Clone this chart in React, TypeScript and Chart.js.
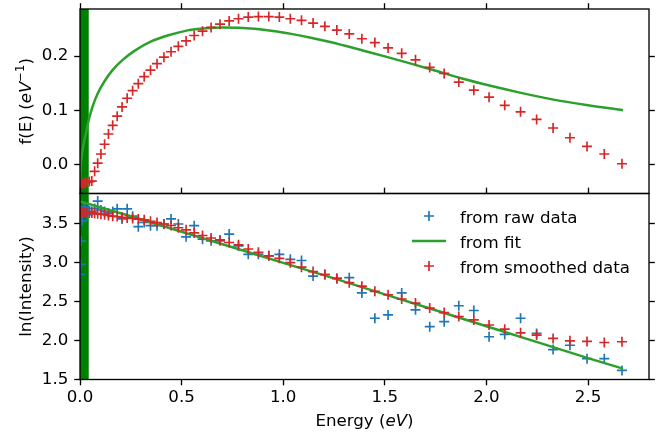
import React, { useEffect, useRef } from 'react';
import { Chart, registerables } from 'chart.js';

Chart.register(...registerables);

// ---------------- data ----------------
const energy = [
  0, 0.001, 0.003, 0.006, 0.011, 0.018, 0.026, 0.035, 0.046,
  0.058, 0.072, 0.087, 0.103, 0.121, 0.140, 0.161, 0.183, 0.207, 0.232,
  0.259, 0.287, 0.316, 0.347, 0.379, 0.413, 0.448, 0.484, 0.522, 0.562,
  0.603, 0.645, 0.689, 0.734, 0.780, 0.828, 0.878, 0.929, 0.981, 1.035,
  1.090, 1.147, 1.205, 1.264, 1.325, 1.387, 1.451, 1.516, 1.583, 1.651,
  1.721, 1.792, 1.864, 1.938, 2.013, 2.090, 2.168, 2.247, 2.328, 2.411,
  2.495, 2.580, 2.667,
];

const fSmoothed = [
  -0.038, -0.038, -0.038, -0.037, -0.036, -0.035, -0.034, -0.033, -0.032,
  -0.031, -0.013, 0.002, 0.019, 0.037, 0.056, 0.072, 0.089, 0.106, 0.122,
  0.136, 0.149, 0.162, 0.174, 0.186, 0.198, 0.208, 0.218, 0.228, 0.238,
  0.246, 0.253, 0.259, 0.265, 0.269, 0.272, 0.273, 0.273, 0.272, 0.269,
  0.266, 0.261, 0.255, 0.248, 0.241, 0.232, 0.225, 0.215, 0.205, 0.193,
  0.179, 0.168, 0.152, 0.137, 0.124, 0.109, 0.097, 0.083, 0.067, 0.049,
  0.033, 0.019, 0.001,
];

const fitEnergyTop = [
  0, 0.004, 0.010, 0.018, 0.029, 0.045, 0.065, 0.090, 0.120, 0.160, 0.210,
  0.270, 0.350, 0.440, 0.530, 0.620, 0.700, 0.780, 0.860, 0.950, 1.040,
  1.130, 1.220, 1.310, 1.400, 1.500, 1.620, 1.750, 1.880, 2.020, 2.170,
  2.330, 2.500, 2.672,
];
const fitTop = [
  -0.036, 0.000, 0.020, 0.038, 0.057, 0.085, 0.110, 0.133, 0.153, 0.174, 0.193,
  0.210, 0.227, 0.239, 0.2475, 0.2515, 0.253, 0.2525, 0.2505, 0.2465, 0.241,
  0.2345, 0.227, 0.2185, 0.2095, 0.1995, 0.187, 0.173, 0.1585, 0.145, 0.132,
  0.1195, 0.109, 0.100,
];

const lnRaw = [
  null, 2.85, 2.98, 3.28, 3.54, 3.70, 3.72, 3.62, 3.66,
  3.66, 3.70, 3.795, 3.68, 3.66, 3.64, 3.66, 3.695, 3.565, 3.695,
  3.60, 3.465, 3.52, 3.478, 3.478, 3.50, 3.565, 3.50, 3.335, 3.478,
  3.305, 3.283, 3.283, 3.37, 3.218, 3.11, 3.11, 3.09, 3.11, 3.045,
  3.03, 2.83, 2.85, 2.80, 2.81, 2.613, 2.288, 2.331, 2.613, 2.396,
  2.179, 2.244, 2.448, 2.387, 2.05, 2.08, 2.288, 2.093, 1.885, 1.94,
  1.768, 1.768, 1.617,
];

const lnSmoothed = [
  3.65, 3.65, 3.65, 3.65, 3.65, 3.645, 3.645, 3.64, 3.64,
  3.64, 3.635, 3.63, 3.625, 3.62, 3.61, 3.60, 3.595, 3.585, 3.578,
  3.57, 3.563, 3.553, 3.535, 3.518, 3.50, 3.48, 3.452, 3.425, 3.385,
  3.352, 3.32, 3.295, 3.262, 3.232, 3.178, 3.135, 3.09, 3.058, 3.002,
  2.945, 2.888, 2.85, 2.80, 2.745, 2.70, 2.634, 2.59, 2.535, 2.483,
  2.418, 2.361, 2.31, 2.266, 2.201, 2.147, 2.10, 2.071, 2.028, 1.997,
  1.99, 1.976, 1.985,
];

const fitEnergyBottom = [0, 0.25, 0.5, 0.75, 1.0, 1.25, 1.5, 1.75, 2.0, 2.25, 2.5, 2.672];
const fitBottom = [3.79, 3.60, 3.40, 3.20, 3.00, 2.80, 2.595, 2.39, 2.185, 1.98, 1.775, 1.64];

const bandRange = [0, 0.043];
const xRange = [0, 2.8];
const xStep = 0.5;
const topRange = [-0.054, 0.287];
const topStep = 0.1;
const bottomRange = [1.5, 3.892];
const bottomStep = 0.5;
const legendLabels = ['from raw data', 'from fit', 'from smoothed data'];

// ---------------- styles ----------------
const BLUE = '#1f77b4';
const GREEN = '#2ca02c';
const RED = '#d62728';
const BAND = '#008000';
const FAMILY = 'DejaVu Sans';
const FS = 16.67;
const TICK = 5.83;
const LW = 1.33;

const W = 659;
const H = 434;
const LEFT = 80;
const RIGHT = 10;
const TOP = 9;
const MID = 193.5;
const BOTTOM = 379.5;

function makeAxis(position: string, range: number[], step: number, showLabels: boolean, showTicks: boolean, size: number) {
  const horizontal = position === 'top' || position === 'bottom';
  return {
    type: 'linear',
    position,
    axis: horizontal ? 'x' : 'y',
    min: range[0],
    max: range[1],
    ticks: {
      display: showLabels,
      stepSize: step,
      includeBounds: false,
      autoSkip: false,
      maxRotation: 0,
      minRotation: 0,
      color: '#000',
      padding: horizontal ? 2.7 : 5.83,
      font: { family: FAMILY, size: FS },
      callback: (v: any) => Number(v).toFixed(1),
    },
    grid: {
      display: showTicks,
      drawOnChartArea: false,
      drawTicks: true,
      tickLength: TICK,
      tickWidth: LW,
      tickColor: '#000',
    },
    border: { display: false },
    afterFit: (s: any) => {
      if (horizontal) s.height = size;
      else s.width = size;
      s.paddingTop = 0;
      s.paddingBottom = 0;
      s.paddingLeft = 0;
      s.paddingRight = 0;
    },
  };
}

function drawRich(ctx: CanvasRenderingContext2D, segs: any[], cx: number, by: number) {
  const fontOf = (s: any) => `${s.italic ? 'italic ' : ''}${(s.scale || 1) * FS}px "${FAMILY}"`;
  let total = 0;
  for (const s of segs) {
    ctx.font = fontOf(s);
    total += ctx.measureText(s.t).width;
  }
  let x = cx - total / 2;
  ctx.textAlign = 'left';
  ctx.textBaseline = 'alphabetic';
  for (const s of segs) {
    ctx.font = fontOf(s);
    ctx.fillText(s.t, x, by + (s.dy || 0));
    x += ctx.measureText(s.t).width;
  }
}

const bandFramePlugin = {
  id: 'bandFrame',
  beforeDatasetsDraw(chart: any) {
    const { ctx, chartArea: a, scales } = chart;
    const xs = scales.x;
    ctx.save();
    ctx.beginPath();
    ctx.rect(a.left, a.top, a.right - a.left, a.bottom - a.top);
    ctx.clip();
    const x0 = xs.getPixelForValue(bandRange[0]);
    const x1 = xs.getPixelForValue(bandRange[1]);
    ctx.fillStyle = BAND;
    ctx.fillRect(x0, a.top, x1 - x0, a.bottom - a.top);
    ctx.restore();
  },
  afterDatasetsDraw(chart: any) {
    const { ctx, chartArea: a } = chart;
    ctx.save();
    ctx.strokeStyle = '#000';
    ctx.lineWidth = LW;
    ctx.strokeRect(a.left, a.top, a.right - a.left, a.bottom - a.top);
    ctx.restore();
  },
};

const topLabelPlugin = {
  id: 'topLabel',
  afterDraw(chart: any) {
    const { ctx, chartArea: a } = chart;
    ctx.save();
    ctx.fillStyle = '#000';
    ctx.translate(a.left - 49, (a.top + a.bottom) / 2);
    ctx.rotate(-Math.PI / 2);
    drawRich(ctx, [
      { t: 'f(E) (' },
      { t: 'eV', italic: true },
      { t: '\u22121', scale: 0.7, dy: -7 },
      { t: ')' },
    ], 0, 0);
    ctx.restore();
  },
};

const bottomLabelPlugin = {
  id: 'bottomLabel',
  afterDraw(chart: any) {
    const { ctx, chartArea: a } = chart;
    ctx.save();
    ctx.fillStyle = '#000';
    drawRich(ctx, [{ t: 'Energy (' }, { t: 'eV', italic: true }, { t: ')' }], (a.left + a.right) / 2, 426);
    ctx.save();
    ctx.translate(a.left - 49, (a.top + a.bottom) / 2);
    ctx.rotate(-Math.PI / 2);
    drawRich(ctx, [{ t: 'ln(Intensity)' }], 0, 0);
    ctx.restore();
    const hx = a.right - 220;
    const tx = a.right - 189;
    const y0 = a.top + 22.5;
    const gap = 25;
    const styles = [
      { kind: 'plus', color: BLUE },
      { kind: 'line', color: GREEN },
      { kind: 'plus', color: RED },
    ];
    styles.forEach((st, i) => {
      const cy = y0 + i * gap;
      ctx.strokeStyle = st.color;
      if (st.kind === 'plus') {
        ctx.lineWidth = 1.67;
        ctx.beginPath();
        ctx.moveTo(hx - 5, cy);
        ctx.lineTo(hx + 5, cy);
        ctx.moveTo(hx, cy - 5);
        ctx.lineTo(hx, cy + 5);
        ctx.stroke();
      } else {
        ctx.lineWidth = 2.5;
        ctx.beginPath();
        ctx.moveTo(hx - 17, cy);
        ctx.lineTo(hx + 17, cy);
        ctx.stroke();
      }
      ctx.fillStyle = '#000';
      ctx.font = `${FS}px "${FAMILY}"`;
      ctx.textAlign = 'left';
      ctx.textBaseline = 'alphabetic';
      ctx.fillText(legendLabels[i], tx, cy + 6.7);
    });
    ctx.restore();
  },
};

const pts = (xs: number[], ys: (number | null)[]) => xs.map((x, i) => ({ x, y: ys[i] }));

export default function App() {
  const topRef = useRef<HTMLCanvasElement>(null);
  const botRef = useRef<HTMLCanvasElement>(null);

  useEffect(() => {
    const common: any = {
      responsive: false,
      animation: false,
      devicePixelRatio: 1,
      events: [],
      layout: { padding: 0 },
      plugins: { legend: { display: false }, title: { display: false }, tooltip: { enabled: false } },
    };

    const top = new Chart(topRef.current as HTMLCanvasElement, {
      type: 'scatter',
      data: {
        datasets: [
          {
            data: pts(energy, fSmoothed),
            pointStyle: 'cross',
            pointRadius: 5,
            pointBorderWidth: 1.67,
            pointBorderColor: RED,
            borderColor: RED,
            showLine: false,
            order: 1,
            clip: 0,
          } as any,
          {
            data: pts(fitEnergyTop, fitTop),
            showLine: true,
            borderColor: GREEN,
            borderWidth: 2.5,
            pointRadius: 0,
            cubicInterpolationMode: 'monotone',
            order: 2,
            clip: 0,
          } as any,
        ],
      },
      options: {
        ...common,
        scales: {
          x: makeAxis('bottom', xRange, xStep, false, false, H - MID),
          x2: makeAxis('top', xRange, xStep, false, true, TOP),
          y: makeAxis('left', topRange, topStep, true, true, LEFT),
          y2: makeAxis('right', topRange, topStep, false, true, RIGHT),
        },
      },
      plugins: [bandFramePlugin, topLabelPlugin],
    } as any);

    const bottom = new Chart(botRef.current as HTMLCanvasElement, {
      type: 'scatter',
      data: {
        datasets: [
          {
            data: pts(energy, lnRaw),
            pointStyle: 'cross',
            pointRadius: 5,
            pointBorderWidth: 1.67,
            pointBorderColor: BLUE,
            borderColor: BLUE,
            showLine: false,
            order: 3,
            clip: 0,
          } as any,
          {
            data: pts(fitEnergyBottom, fitBottom),
            showLine: true,
            borderColor: GREEN,
            borderWidth: 2.5,
            pointRadius: 0,
            order: 2,
            clip: 0,
          } as any,
          {
            data: pts(energy, lnSmoothed),
            pointStyle: 'cross',
            pointRadius: 5,
            pointBorderWidth: 1.67,
            pointBorderColor: RED,
            borderColor: RED,
            showLine: false,
            order: 1,
            clip: 0,
          } as any,
        ],
      },
      options: {
        ...common,
        scales: {
          x: makeAxis('bottom', xRange, xStep, true, true, H - BOTTOM),
          x2: makeAxis('top', xRange, xStep, false, true, MID),
          y: makeAxis('left', bottomRange, bottomStep, true, true, LEFT),
          y2: makeAxis('right', bottomRange, bottomStep, false, true, RIGHT),
        },
      },
      plugins: [bandFramePlugin, bottomLabelPlugin],
    } as any);

    return () => {
      top.destroy();
      bottom.destroy();
    };
  }, []);

  const cstyle: React.CSSProperties = { position: 'absolute', left: 0, top: 0, width: W, height: H };
  return (
    <div style={{ position: 'fixed', left: 0, top: 0, width: W, height: H, background: '#fff' }}>
      <canvas ref={topRef} width={W} height={H} style={cstyle} />
      <canvas ref={botRef} width={W} height={H} style={cstyle} />
    </div>
  );
}
